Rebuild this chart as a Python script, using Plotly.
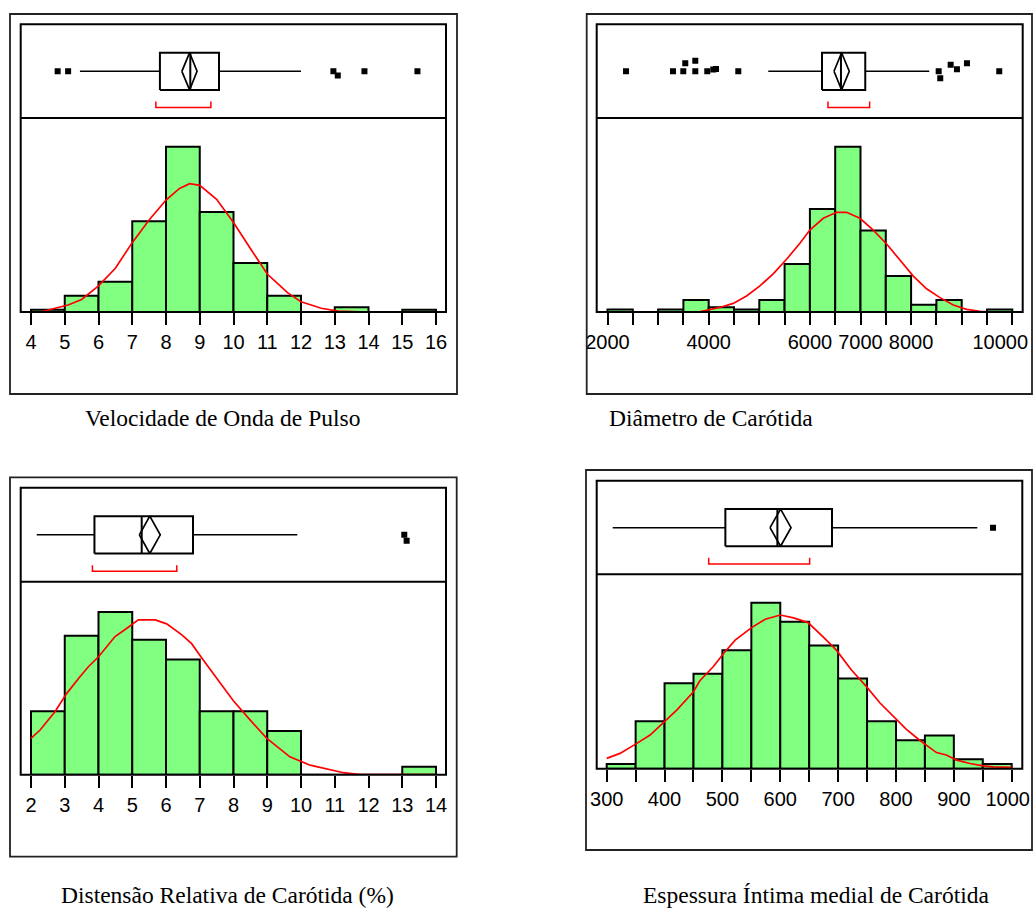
import numpy as np
import plotly.graph_objects as go

W, H = 1033, 908

# ---------------- Velocidade de Onda de Pulso ----------------
vop_edges = [4, 5, 6, 7, 8, 9, 10, 11, 12, 13, 14, 15, 16]
vop_counts = [1, 7, 13, 39, 71, 43, 21, 7, 0, 2, 0, 1]
vop_curve_x = [4.0, 4.3, 5.1, 5.5, 6.0, 6.5, 7.0, 7.5, 8.0, 8.4, 8.7, 9.0, 9.5,
               10.0, 10.5, 11.0, 11.6, 12.0, 12.6, 13.1, 14.0, 16.0]
vop_curve_y = [0.0, 0.1, 3.0, 5.4, 11.2, 18.8, 29.8, 39.5, 48.1, 53.1, 55.1, 54.4,
               48.4, 38.4, 27.3, 16.3, 8.3, 4.4, 1.6, 0.4, 0.0, 0.0]
vop_five = [5.45, 7.82, 8.72, 9.57, 12.0]          # whisker lo, Q1, median, Q3, whisker hi
vop_mean_ci = [8.47, 8.70, 8.92]                   # lower CI, mean, upper CI
vop_short_half = [7.70, 9.33]
vop_outliers = [4.79, 5.10, 12.96, 13.09, 13.88, 15.45]
vop_out_lane = [0, 0, 0, -4.3, 0, 0]
vop_ticktext = ["4", "5", "6", "7", "8", "9", "10", "11", "12", "13", "14", "15", "16"]

# ---------------- Diâmetro de Carótida ----------------
dc_edges = [2000, 2500, 3000, 3500, 4000, 4500, 5000, 5500, 6000, 6500, 7000,
            7500, 8000, 8500, 9000, 9500, 10000]
dc_counts = [1, 0, 1, 5, 2, 1, 5, 20, 43, 69, 34, 15, 3, 5, 0, 1]
dc_curve_x = [2000, 3000, 3792, 4221, 4484, 4748, 5012, 5275, 5539, 5802, 6000,
              6264, 6527, 6725, 6988, 7252, 7516, 7779, 8043, 8306, 8570, 8834,
              9097, 9361, 9625, 10000]
dc_curve_y = [0.0, 0.0, 0.0, 1.9, 3.6, 6.7, 10.9, 15.9, 22.0, 28.7, 34.2, 39.1,
              41.6, 41.6, 39.1, 34.2, 28.4, 21.7, 15.0, 9.7, 6.0, 2.9, 1.1, 0.3,
              0.0, 0.0]
dc_five = [5177, 6239, 6614, 7094, 8359]
dc_mean_ci = [6476, 6626, 6778]
dc_short_half = [6357, 7181]
dc_outliers = [2366, 3294, 3498, 3537, 3735, 3735, 3972, 4091, 4144, 4585,
               8545, 8576, 8782, 8906, 9104, 9742]
dc_out_lane = [0, 0, 0, 8, 0, 10.5, 0, 1.7, 2.3, 0, 0, -7, 6.5, 2, 8, 0]
dc_ticktext = ["2000", "", "", "", "4000", "", "", "", "6000", "", "7000", "",
               "8000", "", "", "", "10000"]

# ---------------- Distensão Relativa de Carótida (%) ----------------
drc_edges = [2, 3, 4, 5, 6, 7, 8, 9, 10, 11, 12, 13, 14]
drc_counts = [16, 35, 41, 34, 29, 16, 16, 11, 0, 0, 0, 2]
drc_curve_x = [2.0, 2.27, 2.71, 3.06, 3.45, 3.70, 4.0, 4.49, 4.84, 5.18, 5.68,
               6.02, 6.46, 6.76, 7.06, 7.50, 7.99, 8.49, 8.98, 9.67, 10.27,
               11.26, 11.75, 14.0]
drc_curve_y = [9.15, 11.25, 15.87, 20.49, 24.69, 27.2, 29.7, 34.8, 36.9, 39.0,
               39.0, 38.0, 35.3, 33.0, 29.4, 24.3, 18.7, 13.8, 9.2, 4.5, 2.4,
               0.5, 0.0, 0.0]
drc_five = [2.17, 3.88, 5.28, 6.80, 9.89]
drc_mean_ci = [5.21, 5.52, 5.83]
drc_short_half = [3.82, 6.32]
drc_outliers = [13.06, 13.13]
drc_out_lane = [0, -6]
drc_ticktext = ["2", "3", "4", "5", "6", "7", "8", "9", "10", "11", "12", "13", "14"]

# ---------------- Espessura Íntima medial de Carótida ----------------
eim_edges = [300, 350, 400, 450, 500, 550, 600, 650, 700, 750, 800, 850, 900,
             950, 1000]
eim_counts = [1, 10, 18, 20, 25, 35, 31, 26, 19, 10, 6, 7, 2, 1]
eim_curve_x = [300, 323, 352, 375, 398, 421, 450, 461, 484, 502, 522, 551, 574,
               600, 623, 648, 674, 697, 723, 749, 772, 795, 818, 841, 870, 887,
               905, 928, 951, 968, 1000]
eim_curve_y = [2.18, 3.23, 5.34, 7.10, 9.70, 12.37, 16.23, 18.55, 21.5, 24.3,
               27.1, 29.8, 31.5, 32.4, 31.8, 30.8, 27.8, 25.0, 20.8, 17.3, 13.9,
               11.0, 8.3, 6.0, 3.4, 2.9, 1.8, 1.1, 0.6, 0.4, 0.3]
eim_five = [310.4, 505.1, 595.0, 689.4, 940.6]
eim_mean_ci = [582.3, 600.5, 618.6]
eim_short_half = [476.3, 650.8]
eim_outliers = [967.7]
eim_out_lane = [0]
eim_ticktext = ["300", "", "400", "", "500", "", "600", "", "700", "", "800", "",
                "900", "", "1000"]

titles = ["Velocidade de Onda de Pulso", "Diâmetro de Carótida",
          "Distensão Relativa de Carótida (%)", "Espessura Íntima medial de Carótida"]

# Panel geometry in pixels: outer box, inner frame (x0, x1, top, separator, base),
# pixel positions of first/last tick, title centre, and the pixel shift of the
# last tick label (moved inwards so it stays inside the page).
panels = [
    dict(edges=vop_edges, counts=vop_counts, cx=vop_curve_x, cy=vop_curve_y,
         five=vop_five, ci=vop_mean_ci, sh=vop_short_half, out=vop_outliers,
         lane=vop_out_lane, ticktext=vop_ticktext, title=titles[0],
         outer=(10, 14, 457, 394), inner=(20.7, 446, 24.3, 118, 312),
         tickpx=(31, 436), unit=2.328, tpos=(222, 418), last_shift=0),
    dict(edges=dc_edges, counts=dc_counts, cx=dc_curve_x, cy=dc_curve_y,
         five=dc_five, ci=dc_mean_ci, sh=dc_short_half, out=dc_outliers,
         lane=dc_out_lane, ticktext=dc_ticktext, title=titles[1],
         outer=(586.7, 14, 1032, 394), inner=(596.7, 1022.7, 24.3, 118, 312),
         tickpx=(607.5, 1012.3), unit=2.396, tpos=(711, 418), last_shift=-12),
    dict(edges=drc_edges, counts=drc_counts, cx=drc_curve_x, cy=drc_curve_y,
         five=drc_five, ci=drc_mean_ci, sh=drc_short_half, out=drc_outliers,
         lane=drc_out_lane, ticktext=drc_ticktext, title=titles[2],
         outer=(10, 477.3, 456.7, 856.7), inner=(20.7, 446, 487.7, 581.7, 774.7),
         tickpx=(31, 436), unit=3.97, tpos=(227, 895), last_shift=0),
    dict(edges=eim_edges, counts=eim_counts, cx=eim_curve_x, cy=eim_curve_y,
         five=eim_five, ci=eim_mean_ci, sh=eim_short_half, out=eim_outliers,
         lane=eim_out_lane, ticktext=eim_ticktext, title=titles[3],
         outer=(586, 470, 1032, 850), inner=(596.7, 1022.3, 480.7, 574.3, 768.7),
         tickpx=(606.7, 1011.7), unit=4.743, tpos=(816, 895), last_shift=-4),
]


def fx(px):
    return px / W


def fy(py):
    return 1 - py / H


GREEN = "#80ff80"
RED = "#ff0000"
BOX_H = 18.6           # half height of the box, in box-axis units (px)
BOX_RANGE = [-46.7, 47]
TICKFONT = dict(family="Liberation Sans, Arial", size=20, color="black")

fig = go.Figure()
layout = dict(width=W, height=H, margin=dict(l=0, r=0, t=0, b=0, autoexpand=False),
              autosize=False, paper_bgcolor="white", plot_bgcolor="white",
              showlegend=False, shapes=[], annotations=[])

extra_axis = 5
for i, p in enumerate(panels):
    n = i + 1
    xa = "x" if n == 1 else f"x{n}"
    yh = 2 * i + 1
    yb = 2 * i + 2
    ya_h = "y" if yh == 1 else f"y{yh}"
    ya_b = f"y{yb}"

    x0, x1, top, sep, base = p["inner"]
    t0, t1 = p["tickpx"]
    e = np.array(p["edges"], dtype=float)
    scale = (e[-1] - e[0]) / (t1 - t0)
    xr = [e[0] - (t0 - x0) * scale, e[-1] + (x1 - t1) * scale]

    # histogram
    centers = (e[:-1] + e[1:]) / 2
    widths = np.diff(e)
    fig.add_trace(go.Bar(x=centers, y=p["counts"], width=widths,
                         marker=dict(color=GREEN, line=dict(color="black", width=2)),
                         xaxis=xa, yaxis=ya_h, hoverinfo="skip"))
    # fitted normal curve
    fig.add_trace(go.Scatter(x=p["cx"], y=p["cy"], mode="lines",
                             line=dict(color=RED, width=1.7),
                             xaxis=xa, yaxis=ya_h, hoverinfo="skip"))

    lo, q1, med, q3, hi = p["five"]
    cil, mean, cih = p["ci"]
    shl, shh = p["sh"]
    # whiskers
    fig.add_trace(go.Scatter(x=[lo, q1, None, q3, hi], y=[0, 0, None, 0, 0],
                             mode="lines", line=dict(color="black", width=1.5),
                             xaxis=xa, yaxis=ya_b, hoverinfo="skip"))
    # box
    fig.add_trace(go.Scatter(x=[q1, q3, q3, q1, q1],
                             y=[-BOX_H, -BOX_H, BOX_H, BOX_H, -BOX_H],
                             mode="lines", line=dict(color="black", width=2),
                             xaxis=xa, yaxis=ya_b, hoverinfo="skip"))
    # median
    fig.add_trace(go.Scatter(x=[med, med], y=[-BOX_H, BOX_H], mode="lines",
                             line=dict(color="black", width=2),
                             xaxis=xa, yaxis=ya_b, hoverinfo="skip"))
    # means diamond
    fig.add_trace(go.Scatter(x=[cil, mean, cih, mean, cil], y=[0, BOX_H, 0, -BOX_H, 0],
                             mode="lines", line=dict(color="black", width=1.7),
                             xaxis=xa, yaxis=ya_b, hoverinfo="skip"))
    # shortest half bracket
    fig.add_trace(go.Scatter(x=[shl, shl, shh, shh], y=[-30.2, -36.3, -36.3, -30.2],
                             mode="lines", line=dict(color=RED, width=1.5),
                             xaxis=xa, yaxis=ya_b, hoverinfo="skip"))
    # outliers
    fig.add_trace(go.Scatter(x=p["out"], y=p["lane"], mode="markers",
                             marker=dict(symbol="square", size=6, color="black",
                                         line=dict(width=0)),
                             xaxis=xa, yaxis=ya_b, hoverinfo="skip"))

    xkey = "xaxis" if n == 1 else f"xaxis{n}"
    ykh = "yaxis" if yh == 1 else f"yaxis{yh}"
    ykb = f"yaxis{yb}"
    ticktext = list(p["ticktext"])
    last_label = ticktext[-1]
    if p["last_shift"]:
        ticktext[-1] = ""
    layout[xkey] = dict(domain=[fx(x0), fx(x1)], range=xr, anchor=ya_h,
                        tickvals=list(e), ticktext=ticktext, tickmode="array",
                        ticks="outside", ticklen=12, tickwidth=2, tickcolor="black",
                        showgrid=False, zeroline=False, showline=False,
                        automargin=False, tickfont=TICKFONT, fixedrange=True)
    layout[ykh] = dict(domain=[fy(base), fy(sep)],
                       range=[0, (base - sep) / p["unit"]], anchor=xa,
                       visible=False, fixedrange=True)
    layout[ykb] = dict(domain=[fy(sep), fy(top)], range=BOX_RANGE, anchor=xa,
                       visible=False, fixedrange=True)

    # last tick label drawn on an overlaying axis so it can be nudged inwards
    if p["last_shift"]:
        xo = f"x{extra_axis}"
        layout[f"xaxis{extra_axis}"] = dict(
            domain=[fx(x0), fx(x1)], range=xr, anchor=ya_h, overlaying=xa,
            tickvals=[e[-1]], ticktext=[last_label], tickmode="array",
            ticks="outside", ticklen=12, tickwidth=2, tickcolor="black",
            ticklabelshift=p["last_shift"], showgrid=False, zeroline=False,
            showline=False, automargin=False, tickfont=TICKFONT, fixedrange=True)
        fig.add_trace(go.Scatter(x=[], y=[], xaxis=xo, yaxis=ya_h,
                                 hoverinfo="skip", showlegend=False))
        extra_axis += 1

    # inner frame and separator
    layout["shapes"].append(dict(type="rect", xref="paper", yref="paper",
                                 x0=fx(x0), x1=fx(x1), y0=fy(base), y1=fy(top),
                                 line=dict(color="black", width=2), layer="above"))
    layout["shapes"].append(dict(type="line", xref="paper", yref="paper",
                                 x0=fx(x0), x1=fx(x1), y0=fy(sep), y1=fy(sep),
                                 line=dict(color="black", width=2), layer="above"))
    # outer border
    ox0, oy0, ox1, oy1 = p["outer"]
    layout["shapes"].append(dict(type="rect", xref="paper", yref="paper",
                                 x0=fx(ox0), x1=fx(ox1), y0=fy(oy1), y1=fy(oy0),
                                 line=dict(color="#222222", width=1.8), layer="above"))
    # caption
    tx, ty = p["tpos"]
    layout["annotations"].append(dict(text=p["title"], x=fx(tx), y=fy(ty),
                                      xref="paper", yref="paper", xanchor="center",
                                      yanchor="middle", showarrow=False,
                                      font=dict(family="Liberation Serif, Times New Roman",
                                                size=23.5, color="black")))

fig.update_layout(**layout)
fig.write_html("out.html")
